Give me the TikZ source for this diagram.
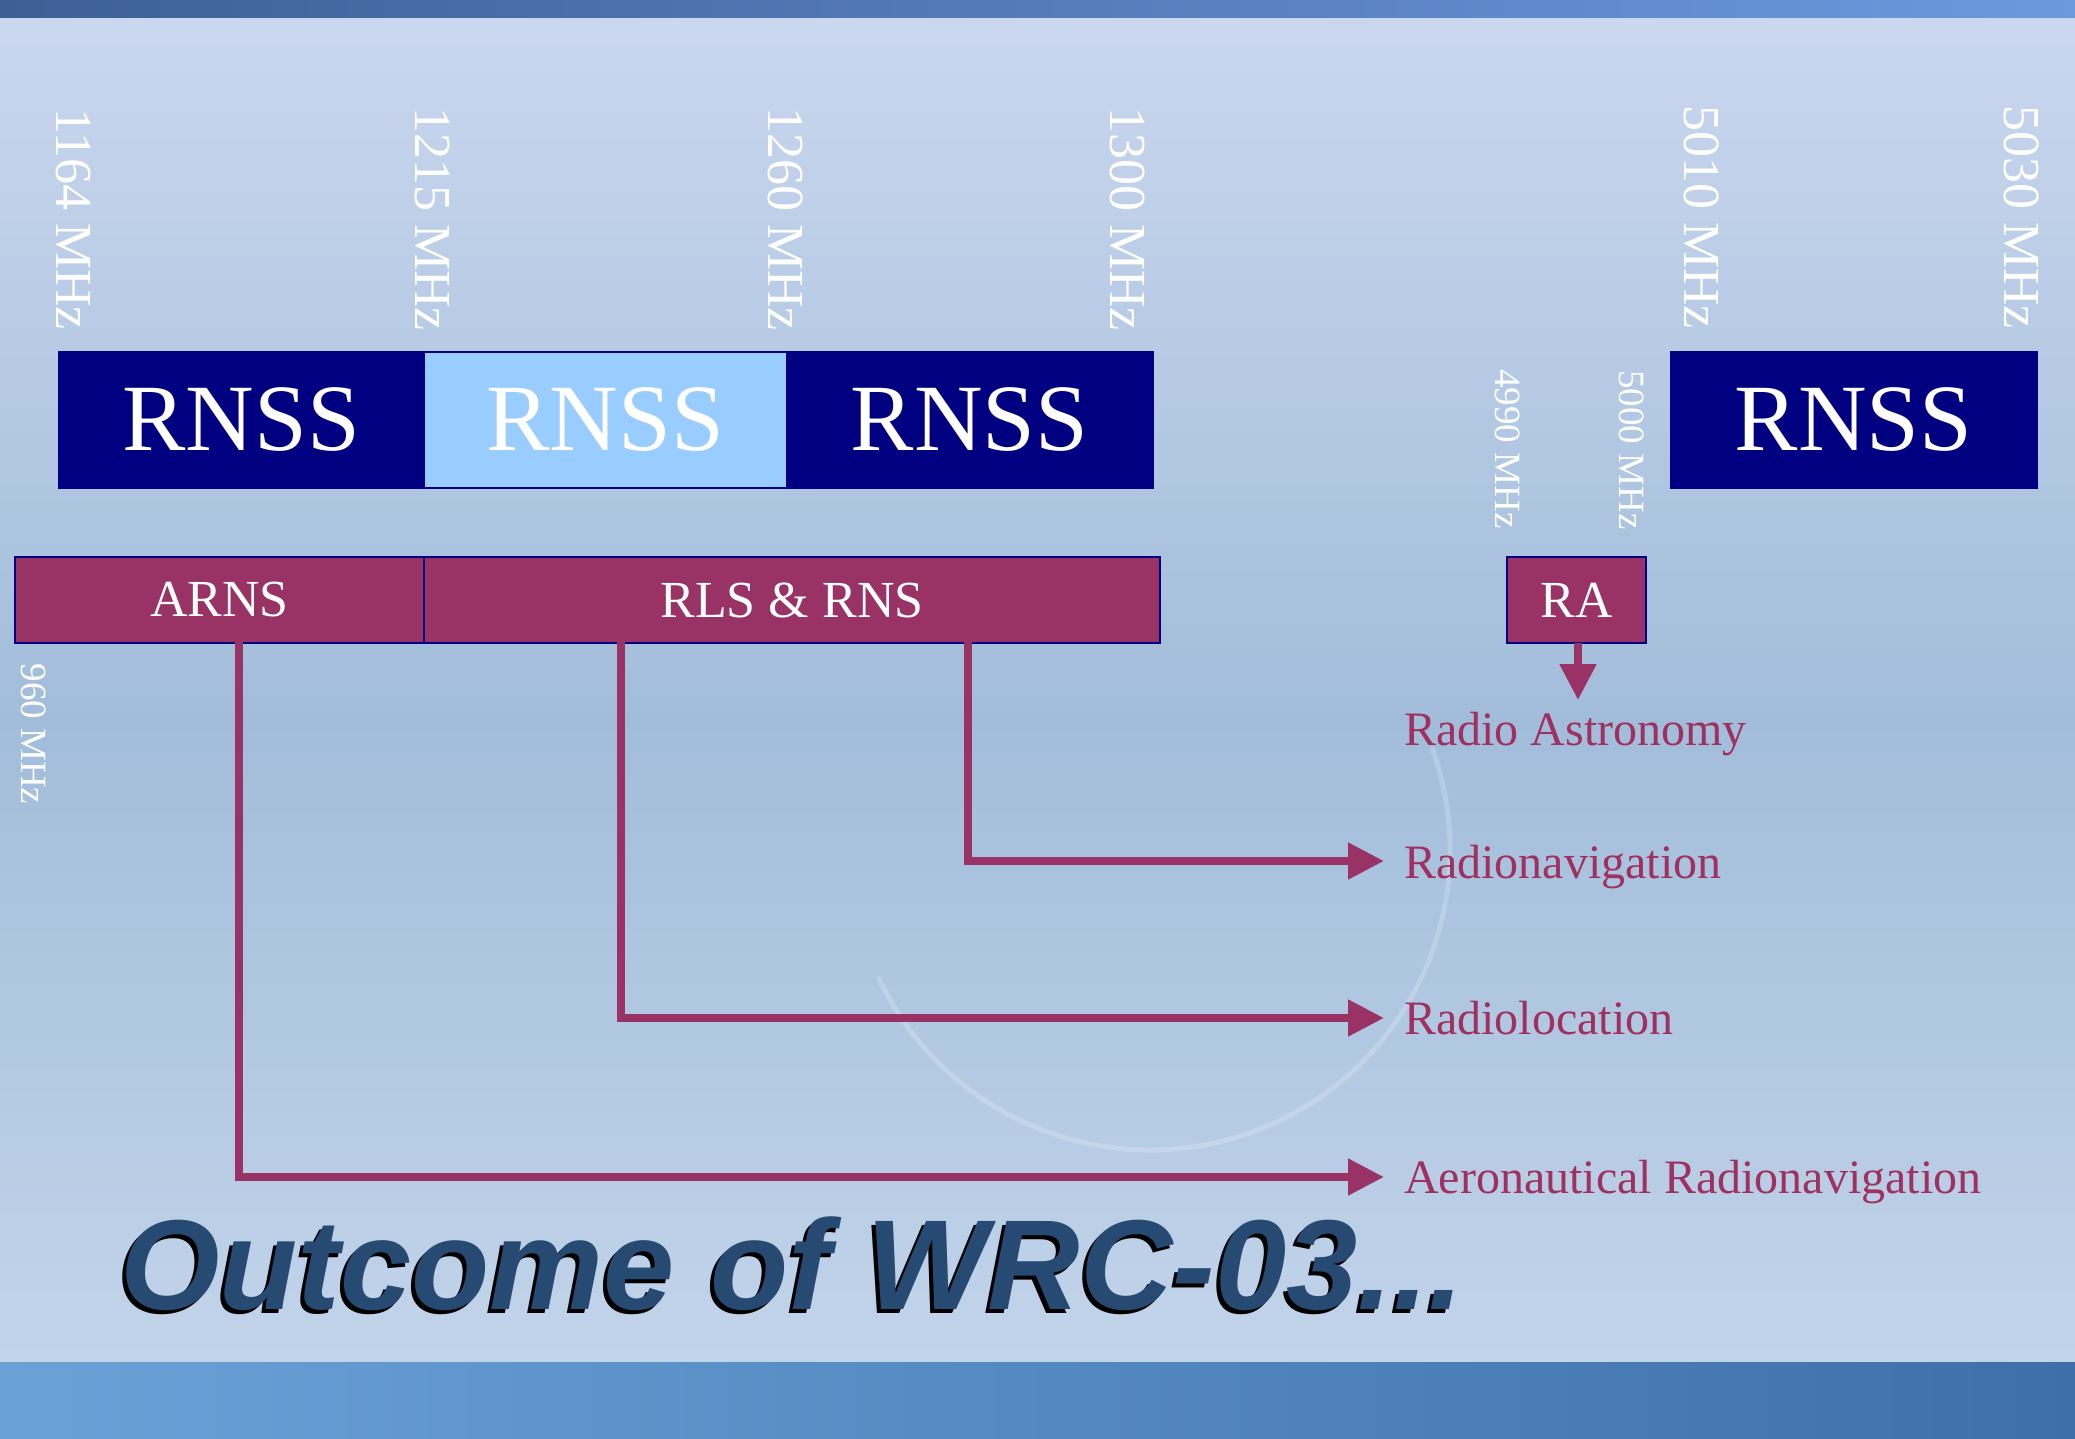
\documentclass[tikz,border=0pt]{standalone}
\usepackage{fontspec}
\setmainfont{Liberation Serif}
\newfontfamily\titlefont{Liberation Sans}
\usetikzlibrary{arrows.meta}
\definecolor{cNavy}{HTML}{000080}
\definecolor{cLight}{HTML}{99CCFF}
\definecolor{cMaroon}{HTML}{993366}
\definecolor{cLabel}{HTML}{A0305F}
\definecolor{cTitle}{HTML}{264A71}
\definecolor{bgTop}{HTML}{CAD7EE}
\definecolor{bgMid}{HTML}{A2BDDA}
\definecolor{bgBot}{HTML}{C2D4EA}
\definecolor{bandA}{HTML}{3E5F96}
\definecolor{bandB}{HTML}{6C98DE}
\definecolor{bandC}{HTML}{6AA2D8}
\definecolor{bandD}{HTML}{3F6FA9}
\begin{document}
\begin{tikzpicture}[x=1pt,y=-1pt,
  rnss/.style={anchor=north west, inner sep=0pt, minimum height=136pt, fill=cNavy, draw=cNavy, line width=1.5pt, text=white, font=\fontsize{95}{95}\selectfont},
  service/.style={anchor=north west, inner sep=0pt, minimum height=86pt, fill=cMaroon, draw=cNavy, line width=2pt, text=white, font=\fontsize{52}{52}\selectfont},
  freq/.style={rotate=-90, inner sep=0pt, text=white, font=\fontsize{52}{52}\selectfont},
  sfreq/.style={rotate=-90, inner sep=0pt, text=white, font=\fontsize{37}{37}\selectfont},
  lbl/.style={anchor=base west, inner sep=0pt, text=cLabel, font=\fontsize{48}{48}\selectfont},
  conn/.style={draw=cMaroon, line width=8pt, line join=miter, -{Triangle[length=36pt,width=35pt]}},
  titletxt/.style={anchor=base west, inner sep=0pt, font=\titlefont\bfseries\itshape\fontsize{128}{128}\selectfont}
]
% background
\useasboundingbox (0,0) rectangle (2075,1438);
\shade[top color=bgTop, bottom color=bgMid] (0,17) rectangle (2075,720);
\shade[top color=bgMid, bottom color=bgBot] (0,720) rectangle (2075,1362);
\shade[left color=bandA, right color=bandB] (0,0) rectangle (2075,17);
\shade[left color=bandC, right color=bandD] (0,1362) rectangle (2075,1438);
\draw[white, opacity=0.2, line width=5pt] (1150,850) ++(-20:300) arc[start angle=-20, end angle=155, radius=300];

% RNSS bands
\node[rnss, minimum width=365pt] (r1) at (58,351) {RNSS};
\node[rnss, minimum width=363pt, fill=cLight] (r2) at (423,351) {RNSS};
\node[rnss, minimum width=366pt] (r3) at (786,351) {RNSS};
\node[rnss, minimum width=366pt] (r4) at (1670,351) {RNSS};

% frequency labels
\node[freq] (f1164) at (73,219) {1164 MHz};
\node[freq] (f1215) at (432,219) {1215 MHz};
\node[freq] (f1260) at (786,219) {1260 MHz};
\node[freq] (f1300) at (1128,219) {1300 MHz};
\node[freq] (f5010) at (1702,217) {5010 MHz};
\node[freq] (f5030) at (2022,217) {5030 MHz};
\node[sfreq] (f4990) at (1508,449) {4990 MHz};
\node[sfreq] (f5000) at (1632,450) {5000 MHz};
\node[sfreq] (f960) at (34,734) {960 MHz};

% service bands
\node[service, minimum width=409pt] (arns) at (14,556) {ARNS};
\node[service, minimum width=736pt] (rls) at (423,556) {RLS \& RNS};
\node[service, minimum width=139pt] (ra) at (1506,556) {RA};

% labels
\node[lbl] (tastro) at (1404,745) {Radio Astronomy};
\node[lbl] (tnav) at (1404,878) {Radionavigation};
\node[lbl] (tloc) at (1404,1034) {Radiolocation};
\node[lbl] (taero) at (1404,1193) {Aeronautical Radionavigation};

% connectors
\coordinate (s1) at (968,640);
\coordinate (e1) at (1384,861);
\coordinate (s2) at (621,640);
\coordinate (e2) at (1384,1018);
\coordinate (s3) at (239,640);
\coordinate (e3) at (1384,1177);
\coordinate (rs) at (1578,643);
\coordinate (re) at (1578,700);
\draw[conn] (s1) |- (e1);
\draw[conn] (s2) |- (e2);
\draw[conn] (s3) |- (e3);
\draw[conn] (rs) -- (re);

% title
\node[titletxt, text=black] (titleshadow) at (116,1313) {Outcome of WRC-03...};
\node[titletxt, text=cTitle] (title) at (120,1309) {Outcome of WRC-03...};
\end{tikzpicture}
\end{document}
